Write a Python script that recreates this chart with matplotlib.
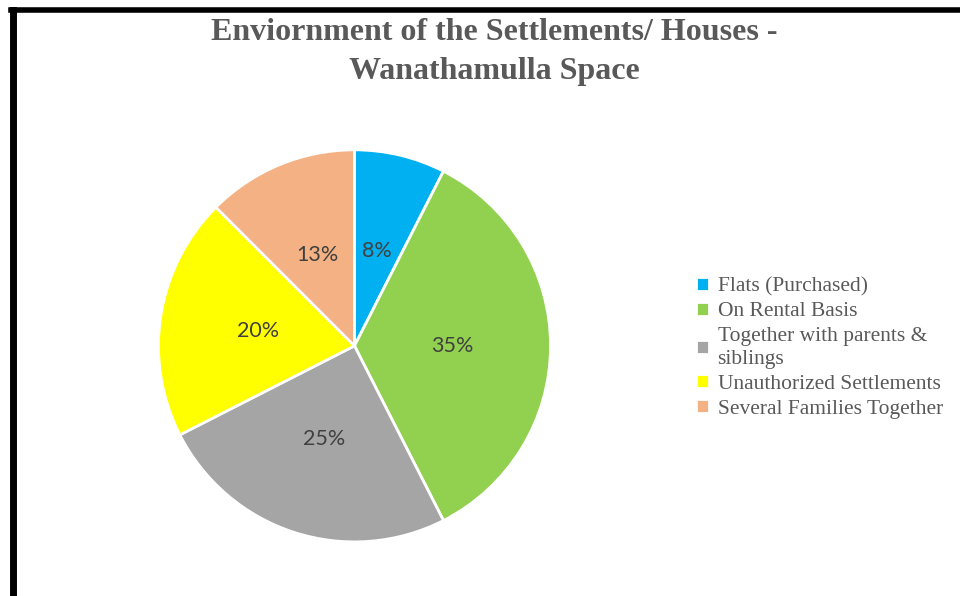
import matplotlib.pyplot as plt
from matplotlib.lines import Line2D

# survey counts (40 households)
categories = ["Flats (Purchased)", "On Rental Basis",
              "Together with parents &\nsiblings",
              "Unauthorized Settlements", "Several Families Together"]
counts = [3, 14, 10, 8, 5]
colors = ["#00B0F0", "#92D050", "#A5A5A5", "#FFFF00", "#F4B183"]


def pct(p):
    return f"{int(p + 0.5 + 1e-9)}%"


fig = plt.figure(figsize=(9.6, 5.96), dpi=100)
ax = fig.add_axes([0.163, 0.0875, 0.4125, 0.6644])

wedges, texts, autotexts = ax.pie(
    counts, colors=colors, startangle=90, counterclock=False,
    autopct=pct, pctdistance=0.5,
    wedgeprops=dict(edgecolor="white", linewidth=2),
    textprops=dict(color="#404040", fontsize=15.5, family="Lato"))
ax.set_xlim(-1.01, 1.01)
ax.set_ylim(-1.01, 1.01)
ax.set_aspect("equal")

fig.text(0.515, 0.97, "Enviornment of the Settlements/ Houses -\nWanathamulla Space",
         ha="center", va="top", fontsize=23, fontweight="bold",
         family="Liberation Serif", color="#595959", linespacing=1.48)

leg = fig.legend(wedges, categories, loc="upper left",
                 bbox_to_anchor=(0.725, 0.535), frameon=False,
                 prop=dict(family="Liberation Serif", size=15.5),
                 handlelength=0.6, handleheight=0.6, handletextpad=0.4,
                 labelspacing=0.25, borderpad=0, borderaxespad=0)
for t in leg.get_texts():
    t.set_color("#595959")
    t.set_linespacing(1.31)

# black frame lines at top and left edge
fig.add_artist(Line2D([0.0115, 1.0], [0.9825, 0.9825], color="black", lw=4))
fig.add_artist(Line2D([0.0135, 0.0135], [0.0, 0.984], color="black", lw=5))

fig.savefig("out.png", dpi=100)
